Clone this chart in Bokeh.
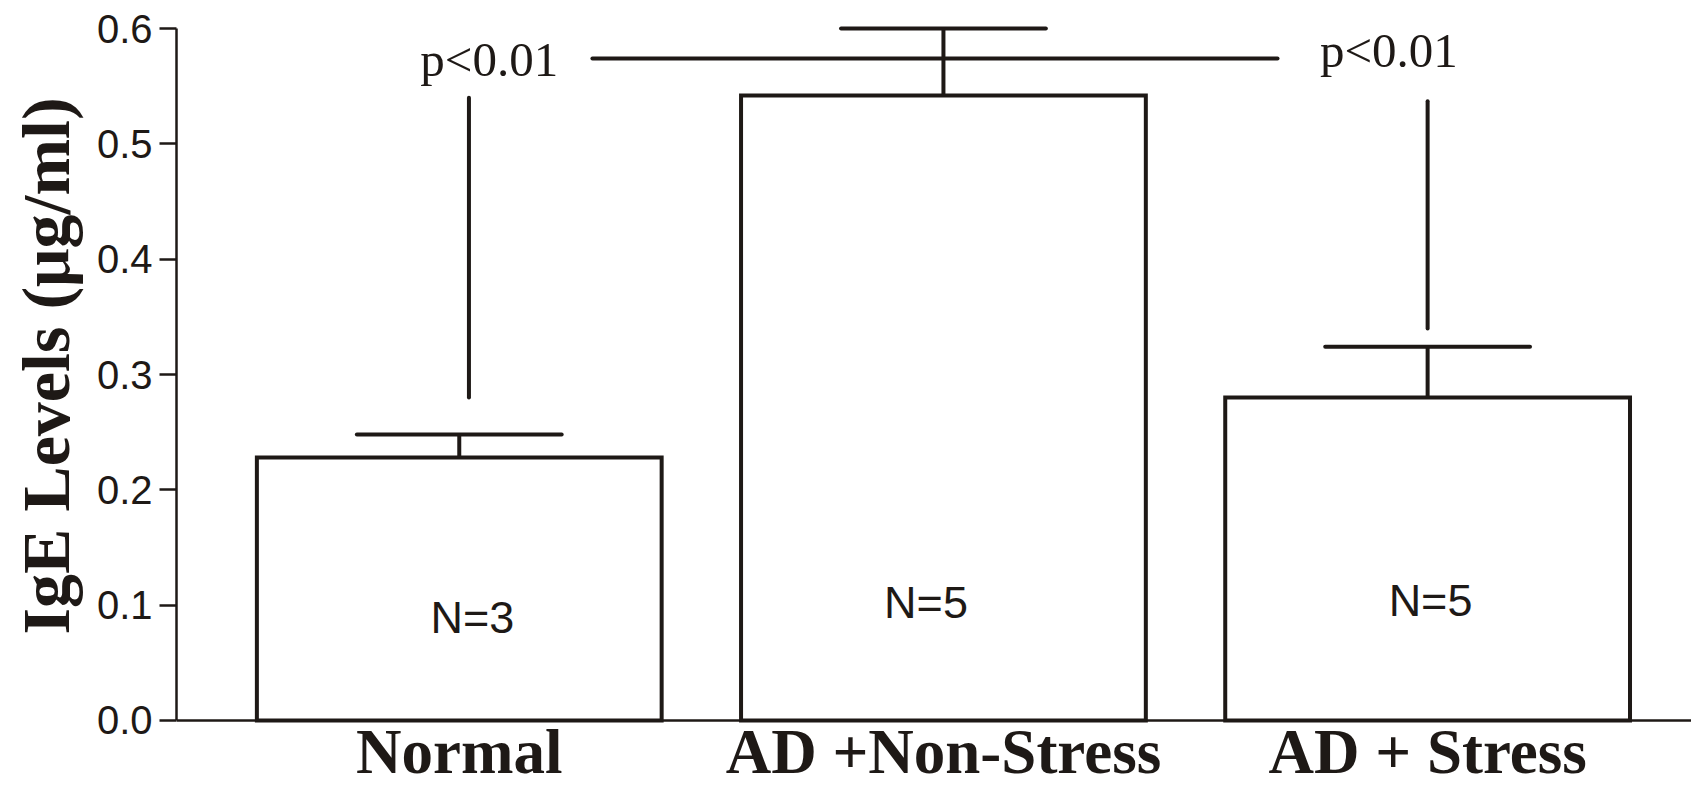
from bokeh.plotting import figure
from bokeh.models import ColumnDataSource, FixedTicker, NumeralTickFormatter, Range1d, Span, Title
from bokeh.core.properties import value
from bokeh.embed import file_html
from bokeh.resources import INLINE

# ---- data ----
categories = ["Normal", "AD +Non-Stress", "AD + Stress"]
x_pos = [1, 2, 3]
means = [0.228, 0.542, 0.280]
sem = [0.020, 0.058, 0.044]
n_labels = ["N=3", "N=5", "N=5"]
n_label_x = [1.027, 1.964, 3.006]
n_label_y = [0.0893, 0.102, 0.104]
y_ticks = [0.0, 0.1, 0.2, 0.3, 0.4, 0.5, 0.6]

# significance annotations
sig_bar_x = [1.275, 2.690]
sig_bar_y = 0.574
sig_left_x = 1.02
sig_left_y = [0.280, 0.540]
sig_right_x = 3.0
sig_right_y = [0.340, 0.537]
p_text = ["p<0.01", "p<0.01"]
p_x = [1.062, 2.92]
p_y = [0.573, 0.581]
cat_label_y = -0.027

# ---- style ----
INK = "#1e1916"
BAR_W = 0.836
CAP_W = 0.423
LW = 4

p = figure(width=1691, height=788,
           x_range=Range1d(0.416, 3.545), y_range=Range1d(-0.059, 0.6148),
           output_backend="svg", toolbar_location=None,
           min_border_left=175, min_border_right=0,
           min_border_top=11, min_border_bottom=0)
p.outline_line_color = None
p.grid.visible = False
p.background_fill_color = "white"
p.border_fill_color = "white"

bars = ColumnDataSource(dict(x=x_pos, top=means))
p.vbar(x="x", top="top", width=BAR_W, source=bars, fill_color="white",
       line_color=INK, line_width=LW, line_join="miter")

# error bars
err_top = [m + e for m, e in zip(means, sem)]
p.segment(x0=x_pos, y0=means, x1=x_pos, y1=err_top, line_color=INK, line_width=LW)
p.segment(x0=[x - CAP_W / 2 for x in x_pos], y0=err_top,
          x1=[x + CAP_W / 2 for x in x_pos], y1=err_top,
          line_color=INK, line_width=LW, line_cap="round")

# significance lines
p.segment(x0=[sig_bar_x[0], sig_left_x, sig_right_x],
          y0=[sig_bar_y, sig_left_y[0], sig_right_y[0]],
          x1=[sig_bar_x[1], sig_left_x, sig_right_x],
          y1=[sig_bar_y, sig_left_y[1], sig_right_y[1]],
          line_color=INK, line_width=LW, line_cap="round")
p.text(x=p_x, y=p_y, text=p_text, text_font=value("Liberation Serif"),
       text_font_size="49px", text_align="center", text_baseline="middle",
       text_color=INK)

# N labels
p.text(x=n_label_x, y=n_label_y, text=n_labels, text_font=value("Liberation Sans"),
       text_font_size="45px", text_align="center", text_baseline="middle",
       text_color=INK)

# category labels
p.text(x=x_pos, y=[cat_label_y] * len(x_pos), text=categories,
       text_font=value("Liberation Serif"), text_font_style="bold",
       text_font_size="63px", text_align="center", text_baseline="middle",
       text_color=INK)

# x axis line at zero
p.xaxis.visible = False
p.add_layout(Span(location=0, dimension="width", line_color=INK, line_width=2.5))

# y axis
ya = p.yaxis[0]
ya.ticker = FixedTicker(ticks=y_ticks)
ya.formatter = NumeralTickFormatter(format="0.0")
ya.bounds = (0, 0.6)
ya.axis_line_width = 2.5
ya.axis_line_color = INK
ya.major_tick_line_width = 2.5
ya.major_tick_line_color = INK
ya.major_tick_out = 17
ya.major_tick_in = 0
ya.minor_tick_line_color = None
ya.major_label_standoff = 7
ya.major_label_text_font = "Liberation Sans"
ya.major_label_text_font_size = "40px"
ya.major_label_text_color = INK

p.add_layout(Title(text="IgE Levels (μg/ml)", align="left", vertical_align="top",
                   offset=154, standoff=15,
                   text_font="Liberation Serif", text_font_style="bold",
                   text_font_size="68px", text_color=INK), "left")

open("out.html", "w").write(file_html(p, INLINE))
